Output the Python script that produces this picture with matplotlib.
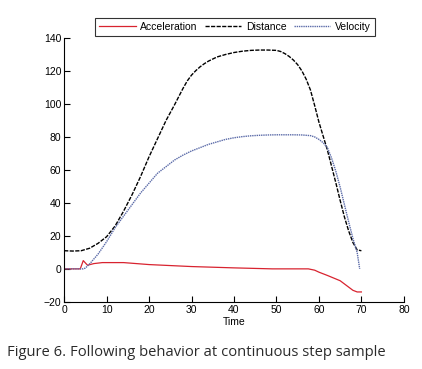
import numpy as np
import matplotlib.pyplot as plt

# =========================================
# DATA
# =========================================
acc_t = [0, 3.8, 4.5, 5.5, 7, 9, 14, 20, 30, 40, 49, 57.5, 59, 60, 62, 65, 68, 69, 70]
acc_v = [0, 0, 5, 2.2, 3.2, 3.8, 3.8, 2.6, 1.4, 0.6, 0, 0, -0.8, -2, -4, -7.2, -13, -14, -14]

dist_t = [0, 2, 4, 6, 8, 10, 12, 14, 16, 18, 20, 22, 24, 26, 27, 28, 29, 30, 31,
          32, 33, 34, 36, 38, 40, 42, 44, 46, 48, 50, 51, 52, 53, 54, 55, 56, 57,
          58, 59, 60, 61, 62, 63, 64, 65, 66, 67, 68, 69, 70]
dist_v = [11, 10.8, 11, 12.5, 15.5, 19.5, 26, 35, 45, 56, 68, 79, 90, 99.5, 104.5,
          109.5, 114, 117.5, 120.2, 122.5, 124.4, 126, 128.5, 130, 131.2, 132,
          132.5, 132.7, 132.7, 132.5, 131.8, 130.5, 128.8, 126.6, 123.8, 120,
          115, 108.5, 99, 89, 80.5, 72, 62, 52, 41.5, 31.5, 23, 16, 11.5, 11]

vel_t = [0, 4.5, 5, 6, 8, 10, 12, 14, 16, 18, 20, 22, 24, 26, 28, 30, 32, 34, 36,
         38, 40, 42, 44, 46, 48, 50, 52, 54, 56, 58, 59, 60, 61, 62, 63, 64, 65,
         66, 67, 68, 69, 69.6]
vel_v = [0, 0, 0.5, 3, 9, 16.5, 25, 32, 39, 46, 52, 58, 62, 66, 69, 71.5, 73.5,
         75.5, 77, 78.5, 79.5, 80.2, 80.7, 81, 81.2, 81.3, 81.3, 81.3, 81.2, 80.8,
         80, 78.5, 76.5, 73.5, 67, 59, 49.5, 39, 28.5, 18.5, 10, 0]

# =========================================
# STYLE
# =========================================
plt.rcParams["font.family"] = ["Liberation Sans", "DejaVu Sans"]
TICK_FS = 7.5

acc_color = "#d8232f"
dist_color = "black"
vel_color = "#5a6aa8"

# =========================================
# PLOT
# =========================================
fig = plt.figure(figsize=(4.22, 3.69), dpi=100)
ax = fig.add_axes([0.152, 0.182, 0.805, 0.715])

ax.plot(acc_t, acc_v, color=acc_color, linewidth=0.9, label="Acceleration")
ax.plot(dist_t, dist_v, color=dist_color, linewidth=1.0, linestyle=(0, (3, 1)),
        label="Distance")
ax.plot(vel_t, vel_v, color=vel_color, linewidth=1.0, linestyle=(0, (1, 0.6)),
        label="Velocity")

ax.set_xlim(0, 80)
ax.set_ylim(-20, 140)
ax.set_xticks(np.arange(0, 81, 10))
ax.set_yticks(np.arange(-20, 141, 20))

for side in ["top", "right"]:
    ax.spines[side].set_visible(False)
for side in ["left", "bottom"]:
    ax.spines[side].set_linewidth(0.8)

ax.tick_params(direction="in", length=4, width=0.8, labelsize=TICK_FS, pad=2)
ax.set_xlabel("Time", fontsize=TICK_FS, labelpad=2)

leg = fig.legend(loc="center", bbox_to_anchor=(0.557, 0.927), ncol=3,
                 fontsize=TICK_FS, frameon=True, fancybox=False,
                 handlelength=3.5, handletextpad=0.45, columnspacing=0.7,
                 borderpad=0.4, borderaxespad=0)
leg.get_frame().set_edgecolor("black")
leg.get_frame().set_linewidth(0.8)

fig.text(0.017, 0.035, "Figure 6. Following behavior at continuous step sample",
         fontsize=10.6, family="Open Sans", color="#2a2a2a", ha="left", va="baseline")

plt.savefig("out.png", dpi=100)
plt.close()
